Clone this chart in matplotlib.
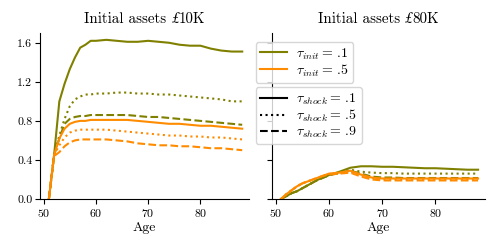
import matplotlib
matplotlib.use("Agg")
import matplotlib.pyplot as plt
from matplotlib.lines import Line2D

plt.rcParams['font.family'] = ['cmr10', 'DejaVu Serif']
plt.rcParams['mathtext.fontset'] = 'cm'
plt.rcParams['axes.formatter.use_mathtext'] = True

ages = [51, 52, 53, 54, 55, 56, 57, 58, 59, 60, 62, 64, 66, 68, 70, 72, 74, 76, 78, 80, 82, 84, 86, 88]

# Left panel: initial assets 10K
l_g_1 = [0, .45, 1.0, 1.18, 1.33, 1.45, 1.55, 1.58, 1.62, 1.62, 1.63, 1.62, 1.61, 1.61, 1.62, 1.61, 1.60, 1.58, 1.57, 1.57, 1.54, 1.52, 1.51, 1.51]
l_g_5 = [0, .45, .65, .82, .95, 1.02, 1.05, 1.07, 1.07, 1.08, 1.08, 1.09, 1.09, 1.08, 1.08, 1.07, 1.07, 1.06, 1.05, 1.04, 1.03, 1.02, 1.00, 1.00]
l_g_9 = [0, .45, .62, .77, .82, .84, .85, .85, .86, .86, .86, .86, .86, .85, .84, .84, .83, .82, .81, .80, .79, .78, .77, .76]
l_o_1 = [0, .45, .62, .72, .77, .79, .80, .80, .81, .81, .81, .81, .81, .80, .79, .78, .77, .77, .76, .75, .75, .74, .73, .72]
l_o_5 = [0, .45, .55, .63, .68, .70, .71, .71, .71, .71, .71, .70, .69, .68, .67, .66, .65, .65, .64, .64, .63, .63, .62, .61]
l_o_9 = [0, .44, .48, .54, .58, .60, .61, .61, .61, .61, .61, .60, .59, .57, .56, .55, .55, .54, .54, .53, .52, .52, .51, .50]

# Right panel: initial assets 80K
r_g_1 = [0, .03, .06, .08, .11, .14, .17, .20, .22, .245, .28, .32, .335, .335, .33, .33, .325, .32, .315, .315, .31, .305, .30, .30]
r_g_5 = [0, .03, .06, .08, .11, .14, .17, .20, .22, .245, .27, .30, .28, .27, .265, .265, .26, .26, .26, .26, .26, .26, .26, .26]
r_g_9 = [0, .03, .06, .08, .11, .14, .17, .20, .22, .245, .265, .29, .26, .23, .22, .22, .215, .215, .215, .215, .215, .215, .215, .215]
r_o_1 = [0, .05, .09, .13, .16, .18, .20, .22, .24, .26, .27, .29, .25, .22, .21, .21, .21, .21, .21, .21, .21, .21, .21, .21]
r_o_5 = [0, .05, .09, .13, .16, .18, .20, .22, .24, .255, .265, .28, .24, .215, .205, .205, .205, .205, .205, .205, .205, .205, .205, .205]
r_o_9 = [0, .05, .09, .13, .16, .18, .20, .22, .24, .25, .26, .27, .23, .20, .19, .19, .19, .19, .19, .19, .19, .19, .19, .19]

title_pre = "Initial assets "
title_cur = "£"
title_amt = ["10K", "80K"]
yticks = [0.0, 0.4, 0.8, 1.2, 1.6]
xticks = [50, 60, 70, 80]

green = '#808000'
orange = '#ff8c00'
lw = 1.5

fig = plt.figure(figsize=(5, 2.5), dpi=100)
ax1 = fig.add_axes([0.08, 0.204, 0.418, 0.664])
ax2 = fig.add_axes([0.544, 0.204, 0.426, 0.664], sharey=ax1)

panels = [
    (ax1, [l_g_1, l_g_5, l_g_9], [l_o_1, l_o_5, l_o_9]),
    (ax2, [r_g_1, r_g_5, r_g_9], [r_o_1, r_o_5, r_o_9]),
]
styles = ['-', ':', '--']
title_x = [0.343, 0.810]
tfs = 10.8
for (ax, gs, os_), amt, tx in zip(panels, title_amt, title_x):
    for s, g in zip(styles, gs):
        ax.plot(ages, g, color=green, ls=s, lw=lw)
    for s, o in zip(styles, os_):
        ax.plot(ages, o, color=orange, ls=s, lw=lw)
    t1 = fig.text(tx, 0.896, title_pre, ha='right', va='bottom', fontsize=tfs)
    a2 = ax.annotate(title_cur, xy=(1, 0), xycoords=t1, ha='left', va='bottom',
                     fontsize=tfs, family=['STIXGeneral'], style='italic')
    ax.annotate(amt, xy=(1, 0), xycoords=a2, ha='left', va='bottom', fontsize=tfs)
    ax.set_xlabel("Age", fontsize=10, labelpad=2)
    ax.set_xticks(xticks)
    ax.set_xlim(49.3, 89.3)
    ax.spines['top'].set_visible(False)
    ax.spines['right'].set_visible(False)
    ax.tick_params(labelsize=8.5, length=3.5, pad=2)

ax1.set_ylim(0, 1.7)
ax1.set_yticks(yticks)
ax1.set_yticklabels([f"{v:.1f}" for v in yticks])
ax2.tick_params(labelleft=False)

h1 = [Line2D([], [], color=green, lw=lw), Line2D([], [], color=orange, lw=lw)]
leg1 = fig.legend(h1, [r'$\tau_{init}=\,$.1', r'$\tau_{init}=\,$.5'], loc='upper left',
                  bbox_to_anchor=(0.511, 0.832), fontsize=10, handlelength=1.95,
                  handletextpad=0.7, borderaxespad=0, labelspacing=0.05, borderpad=0.3)
h2 = [Line2D([], [], color='k', lw=lw, ls=s) for s in styles]
leg2 = fig.legend(h2, [r'$\tau_{shock}=\,$.1', r'$\tau_{shock}=\,$.5', r'$\tau_{shock}=\,$.9'],
                  loc='upper left', bbox_to_anchor=(0.511, 0.651), fontsize=10,
                  handlelength=1.95, handletextpad=0.7, borderaxespad=0,
                  labelspacing=0.05, borderpad=0.3)

fig.savefig("out.png", dpi=100)
